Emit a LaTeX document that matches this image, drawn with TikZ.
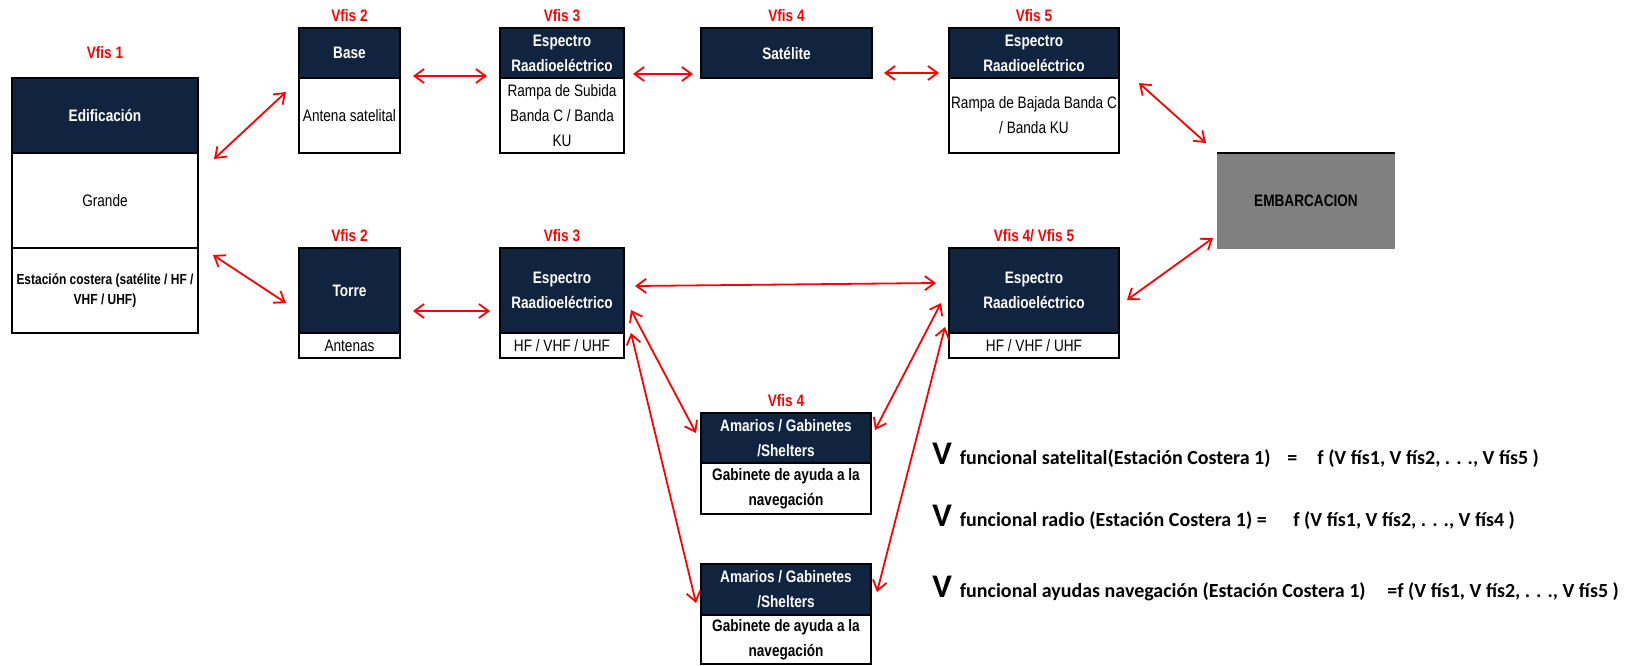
\documentclass[tikz,border=0pt]{standalone}
\usepackage{fontspec}
\setmainfont{Liberation Sans}[FakeStretch=0.82]
\newfontfamily\formfont{Carlito}
\usetikzlibrary{arrows.meta, positioning}

\definecolor{headblue}{HTML}{10243F}
\definecolor{boatgray}{HTML}{808080}
\newcommand{\boxfont}{\fontsize{8.3}{12.5}\selectfont}
\newcommand{\smallfont}{\fontsize{7.3}{10}\selectfont}
\newcommand{\bigV}{{\fontsize{16.5}{16.5}\selectfont V}\hspace{4pt}}

\begin{document}
\begin{tikzpicture}[
    x=0.5pt, y=-0.5pt,
    head/.style={
        draw=black, line width=1pt, fill=headblue,
        text=white, font=\boxfont\bfseries,
        align=center, inner sep=0pt, outer sep=0pt
    },
    body/.style={
        draw=black, line width=1pt, fill=white,
        font=\boxfont, align=center,
        inner sep=0pt, outer sep=0pt
    },
    vfis/.style={text=red, font=\boxfont\bfseries, inner sep=0pt},
    link/.style={{Straight Barb[length=4.8pt,width=7pt]}-{Straight Barb[length=4.8pt,width=7pt]}, red, line width=0.9pt},
    formula/.style={font=\formfont\bfseries\fontsize{10}{12}\selectfont, inner sep=0pt, anchor=base west}
]
\useasboundingbox (0,0) rectangle (1635,665);

% building
\node[head, minimum width=93pt, minimum height=37.5pt] (edifhead) at (105,115.5) {Edificación};
\node[body, minimum width=93pt, minimum height=47.5pt, below=0pt of edifhead] (edifmid) {Grande};
\node[body, minimum width=93pt, minimum height=42.5pt, below=0pt of edifmid, font=\smallfont\bfseries] (edifbot) {Estación costera (satélite / HF /\\VHF / UHF)};
\node[vfis, above=9.5pt of edifhead] (vf1) {Vfis 1};

% satellite chain
\node[head, minimum width=50.5pt, minimum height=25pt] (basehead) at (349.5,53) {Base};
\node[body, minimum width=50.5pt, minimum height=37.5pt, below=0pt of basehead] (basebody) {Antena satelital};
\node[vfis, above=3pt of basehead] (vf2a) {Vfis 2};

\node[head, minimum width=62pt, minimum height=25pt] (espuphead) at (562,53) {Espectro\\Raadioeléctrico};
\node[body, minimum width=62pt, minimum height=37.5pt, below=0pt of espuphead] (espupbody) {Rampa de Subida\\Banda C / Banda\\KU};
\node[vfis, above=3pt of espuphead] (vf3a) {Vfis 3};

\node[head, minimum width=85.5pt, minimum height=25pt] (sathead) at (786.5,53) {Satélite};
\node[vfis, above=3pt of sathead] (vf4a) {Vfis 4};

\node[head, minimum width=85pt, minimum height=25pt] (espdnhead) at (1034,53) {Espectro\\Raadioeléctrico};
\node[body, minimum width=85pt, minimum height=37.5pt, below=0pt of espdnhead] (espdnbody) {Rampa de Bajada Banda C\\/ Banda KU};
\node[vfis, above=3pt of espdnhead] (vf5a) {Vfis 5};

% vessel
\node[fill=boatgray, minimum width=89pt, minimum height=48pt, inner sep=0pt, outer sep=0pt, font=\boxfont\bfseries] (emb) at (1306,201) {EMBARCACION};
\draw[line width=1pt] (emb.north west) -- (emb.north east);

% radio chain
\node[head, minimum width=50.5pt, minimum height=42.5pt] (torrehead) at (349.5,290.5) {Torre};
\node[body, minimum width=50.5pt, minimum height=12.5pt, below=0pt of torrehead] (torrebody) {Antenas};
\node[vfis, above=3pt of torrehead] (vf2b) {Vfis 2};

\node[head, minimum width=62pt, minimum height=42.5pt] (esp3head) at (562,290.5) {Espectro\\Raadioeléctrico};
\node[body, minimum width=62pt, minimum height=12.5pt, below=0pt of esp3head] (esp3body) {HF / VHF / UHF};
\node[vfis, above=3pt of esp3head] (vf3b) {Vfis 3};

\node[head, minimum width=85pt, minimum height=42.5pt] (esp45head) at (1034,290.5) {Espectro\\Raadioeléctrico};
\node[body, minimum width=85pt, minimum height=12.5pt, below=0pt of esp45head] (esp45body) {HF / VHF / UHF};
\node[vfis, above=3pt of esp45head] (vf45) {Vfis 4/ Vfis 5};

% navigation cabinets
\node[head, minimum width=85pt, minimum height=25pt] (gab1head) at (786,438) {Amarios / Gabinetes\\/Shelters};
\node[body, minimum width=85pt, minimum height=25.5pt, below=0pt of gab1head, font=\boxfont\bfseries] (gab1body) {Gabinete de ayuda a la\\navegación};
\node[vfis, above=3pt of gab1head] (vf4b) {Vfis 4};

\node[head, minimum width=85pt, minimum height=25.5pt] (gab2head) at (786,589.5) {Amarios / Gabinetes\\/Shelters};
\node[body, minimum width=85pt, minimum height=24.5pt, below=0pt of gab2head, font=\boxfont\bfseries] (gab2body) {Gabinete de ayuda a la\\navegación};

% links
\draw[link] ([shift={(16,6)}]edifhead.south east) -- ([shift={(-13,14)}]basehead.south west);
\draw[link] ([shift={(15,7)}]edifbot.north east) -- ([shift={(-13,12.5)}]torrehead.west);
\draw[link] ([shift={(13,-2)}]basehead.south east) -- ([shift={(-13,-2)}]espuphead.south west);
\draw[link] ([shift={(9,-4)}]espuphead.south east) -- ([shift={(-8,-4)}]sathead.south west);
\draw[link] ([shift={(12,-5)}]sathead.south east) -- ([shift={(-10,-5)}]espdnhead.south west);
\draw[link] ([shift={(20,5)}]espdnbody.north east) -- ([shift={(-11,-10)}]emb.north west);
\draw[link] ([shift={(-4,-11)}]emb.south west) -- ([shift={(8,9.5)}]esp45head.east);
\draw[link] ([shift={(13,-22)}]torrehead.south east) -- ([shift={(-10,-22)}]esp3head.south west);
\draw[link] ([shift={(11,-4.5)}]esp3head.east) -- ([shift={(-13,-7.5)}]esp45head.west);
\draw[link] ([shift={(7,-23)}]esp3head.south east) -- ([shift={(-5,-5)}]gab1head.west);
\draw[link] ([shift={(7,0)}]esp3head.south east) -- ([shift={(-5,13.5)}]gab2head.west);
\draw[link] ([shift={(4,-8)}]gab1head.east) -- ([shift={(-8,-30)}]esp45head.south west);
\draw[link] ([shift={(6,2.5)}]gab2head.east) -- ([shift={(-4,-6)}]esp45head.south west);

% functional value formulas
\node[formula] (fsat) at (932,464) {\bigV funcional satelital(Estación Costera 1)};
\node[formula] (eqsat) at (1287,464) {=};
\node[formula] (argsat) at (1317,464) {f (V fís1, V fís2, . . ., V fís5 )};

\node[formula] (frad) at (932,526) {\bigV funcional radio (Estación Costera 1) =};
\node[formula] (argrad) at (1293,526) {f (V fís1, V fís2, . . ., V fís4 )};

\node[formula] (fnav) at (932,597) {\bigV funcional ayudas navegación (Estación Costera 1)};
\node[formula] (argnav) at (1387,597) {=f (V fís1, V fís2, . . ., V fís5 )};

\end{tikzpicture}
\end{document}
